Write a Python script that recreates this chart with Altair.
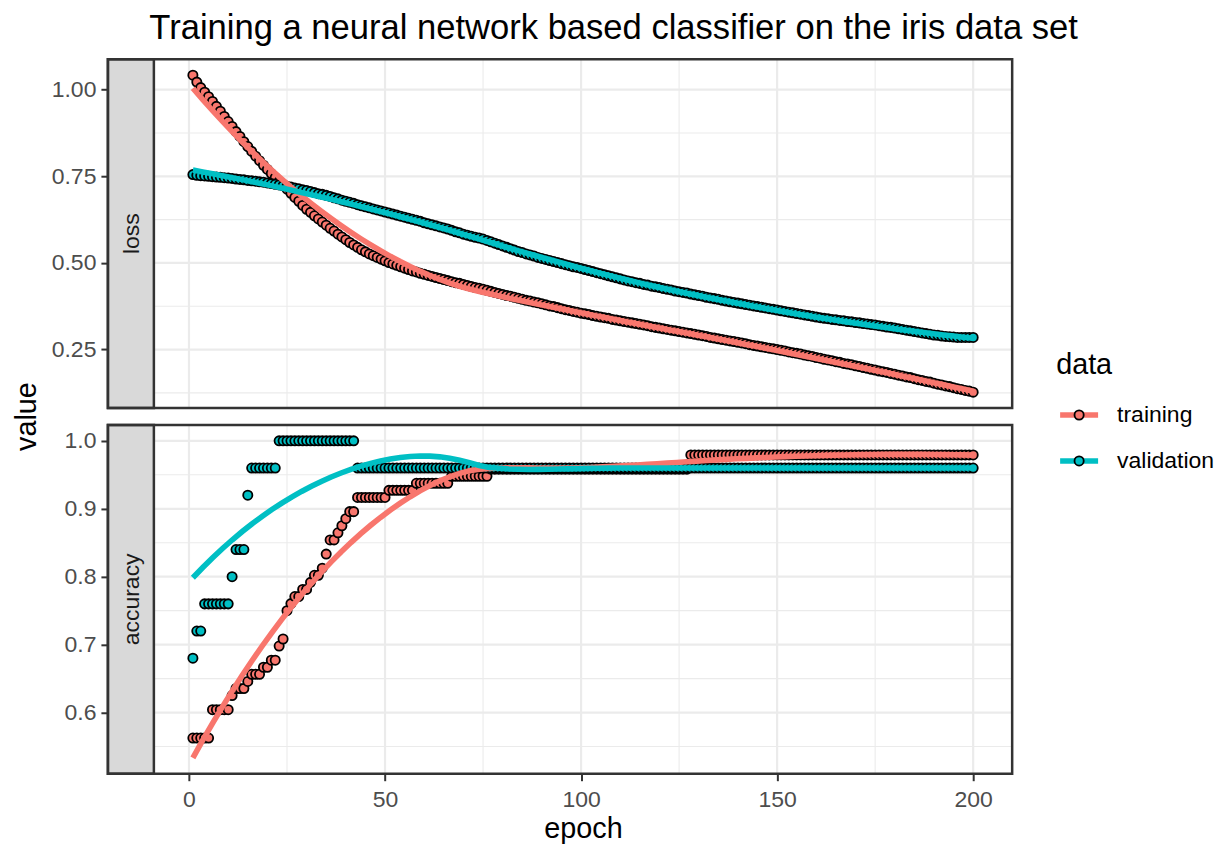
import numpy as np
import pandas as pd
import altair as alt

# ---------------- data ----------------
TITLE = "Training a neural network based classifier on the iris data set"
Y_TITLE = "value"
X_TITLE = "epoch"
LEGEND_TITLE = "data"
SERIES = ["training", "validation"]
COLORS = ["#F8766D", "#00BFC4"]
PANELS = ["loss", "accuracy"]

EPOCH = list(range(1, 201))

TRAIN_LOSS = [
    1.042, 1.022, 1.006, 0.993, 0.980, 0.966, 0.952, 0.938, 0.923, 0.908,
    0.894, 0.879, 0.865, 0.850, 0.836, 0.822, 0.808, 0.795, 0.782, 0.770,
    0.758, 0.746, 0.735, 0.724, 0.713, 0.701, 0.689, 0.678, 0.666, 0.655,
    0.646, 0.636, 0.627, 0.618, 0.609, 0.600, 0.592, 0.583, 0.575, 0.567,
    0.559, 0.552, 0.545, 0.538, 0.532, 0.526, 0.521, 0.516, 0.511, 0.506,
    0.501, 0.497, 0.493, 0.489, 0.485, 0.481, 0.477, 0.474, 0.470, 0.467,
    0.464, 0.461, 0.458, 0.455, 0.452, 0.449, 0.446, 0.443, 0.441, 0.438,
    0.435, 0.432, 0.429, 0.427, 0.424, 0.421, 0.418, 0.415, 0.412, 0.409,
    0.406, 0.404, 0.401, 0.398, 0.395, 0.392, 0.390, 0.387, 0.385, 0.382,
    0.379, 0.376, 0.374, 0.371, 0.368, 0.365, 0.363, 0.360, 0.358, 0.355,
    0.353, 0.351, 0.348, 0.346, 0.344, 0.342, 0.340, 0.337, 0.335, 0.333,
    0.331, 0.329, 0.327, 0.325, 0.323, 0.321, 0.319, 0.316, 0.314, 0.312,
    0.310, 0.308, 0.306, 0.304, 0.302, 0.300, 0.298, 0.296, 0.294, 0.292,
    0.290, 0.288, 0.285, 0.283, 0.281, 0.279, 0.277, 0.275, 0.273, 0.271,
    0.269, 0.267, 0.264, 0.262, 0.260, 0.258, 0.256, 0.254, 0.252, 0.250,
    0.248, 0.246, 0.243, 0.241, 0.239, 0.237, 0.234, 0.232, 0.230, 0.227,
    0.225, 0.222, 0.220, 0.218, 0.215, 0.213, 0.210, 0.208, 0.206, 0.203,
    0.201, 0.198, 0.196, 0.193, 0.191, 0.188, 0.186, 0.184, 0.181, 0.179,
    0.176, 0.174, 0.171, 0.169, 0.166, 0.163, 0.161, 0.158, 0.156, 0.153,
    0.150, 0.148, 0.145, 0.143, 0.140, 0.137, 0.135, 0.132, 0.130, 0.127,
]

VAL_LOSS = [
    0.755, 0.753, 0.752, 0.751, 0.750, 0.749, 0.748, 0.747, 0.746, 0.745,
    0.744, 0.742, 0.741, 0.740, 0.738, 0.737, 0.736, 0.734, 0.733, 0.731,
    0.729, 0.727, 0.725, 0.723, 0.721, 0.719, 0.716, 0.714, 0.711, 0.709,
    0.706, 0.703, 0.700, 0.698, 0.695, 0.692, 0.688, 0.685, 0.681, 0.678,
    0.675, 0.672, 0.668, 0.665, 0.662, 0.659, 0.656, 0.653, 0.650, 0.647,
    0.644, 0.641, 0.638, 0.635, 0.632, 0.629, 0.626, 0.623, 0.620, 0.616,
    0.613, 0.610, 0.607, 0.604, 0.601, 0.598, 0.594, 0.590, 0.587, 0.583,
    0.580, 0.577, 0.574, 0.572, 0.569, 0.565, 0.561, 0.557, 0.553, 0.549,
    0.545, 0.541, 0.537, 0.533, 0.530, 0.526, 0.523, 0.520, 0.516, 0.513,
    0.510, 0.507, 0.504, 0.501, 0.498, 0.495, 0.492, 0.489, 0.487, 0.484,
    0.481, 0.478, 0.475, 0.472, 0.469, 0.466, 0.463, 0.460, 0.457, 0.454,
    0.451, 0.448, 0.446, 0.443, 0.441, 0.438, 0.436, 0.433, 0.431, 0.429,
    0.426, 0.424, 0.422, 0.419, 0.417, 0.415, 0.413, 0.410, 0.408, 0.406,
    0.404, 0.401, 0.399, 0.397, 0.395, 0.392, 0.390, 0.388, 0.386, 0.384,
    0.382, 0.380, 0.378, 0.376, 0.374, 0.372, 0.370, 0.368, 0.366, 0.364,
    0.362, 0.360, 0.358, 0.356, 0.354, 0.352, 0.350, 0.348, 0.346, 0.344,
    0.342, 0.340, 0.339, 0.337, 0.336, 0.334, 0.333, 0.331, 0.330, 0.328,
    0.327, 0.325, 0.324, 0.322, 0.321, 0.319, 0.317, 0.315, 0.314, 0.312,
    0.310, 0.308, 0.306, 0.304, 0.302, 0.300, 0.298, 0.296, 0.294, 0.292,
    0.291, 0.289, 0.288, 0.287, 0.286, 0.285, 0.285, 0.285, 0.285, 0.285,
]

TRAIN_ACC = (
    [0.5625] * 5 + [0.6042] * 5 + [0.6250] + [0.6354] * 3 + [0.6458]
    + [0.6563] * 3 + [0.6667] * 2 + [0.6771] * 2 + [0.6979] + [0.7083]
    + [0.7500] + [0.7604] + [0.7708] * 2 + [0.7813] * 2 + [0.7917]
    + [0.8021] * 2 + [0.8125] + [0.8333] + [0.8542] * 2 + [0.8646]
    + [0.8750] + [0.8854] + [0.8958] * 2 + [0.9167] * 8 + [0.9271] * 7
    + [0.9375] * 9 + [0.9479] * 10 + [0.9583] * 51 + [0.9792] * 73
)

VAL_ACC = (
    [0.68] + [0.72] * 2 + [0.76] * 7 + [0.80] + [0.84] * 3 + [0.92]
    + [0.96] * 7 + [1.00] * 20 + [0.96] * 158
)

X_TICKS = [0, 50, 100, 150, 200]
X_MINOR = [25, 75, 125, 175]
LOSS_TICKS = [0.25, 0.50, 0.75, 1.00]
LOSS_MINOR = [0.125, 0.375, 0.625, 0.875]
ACC_TICKS = [0.6, 0.7, 0.8, 0.9, 1.0]
ACC_MINOR = [0.55, 0.65, 0.75, 0.85, 0.95]

for arr in (TRAIN_LOSS, VAL_LOSS, TRAIN_ACC, VAL_ACC):
    assert len(arr) == len(EPOCH)

# ---------------- smoothing (geom_smooth: loess, span .75, degree 2) ----------------
def loess(x, y, span=0.75, n_out=80):
    x = np.asarray(x, float)
    y = np.asarray(y, float)
    q = int(np.floor(len(x) * span))
    grid = np.linspace(x.min(), x.max(), n_out)
    fit = []
    for x0 in grid:
        d = np.abs(x - x0)
        h = np.sort(d)[q - 1]
        u = np.clip(d / h, 0, 1)
        w = (1 - u ** 3) ** 3
        sw = np.sqrt(w)
        A = np.column_stack([np.ones_like(x), x - x0, (x - x0) ** 2]) * sw[:, None]
        beta, *_ = np.linalg.lstsq(A, y * sw, rcond=None)
        fit.append(float(beta[0]))
    return grid, np.array(fit)


def long_points(train, val):
    return pd.DataFrame({
        "epoch": EPOCH + EPOCH,
        "value": list(train) + list(val),
        "data": [SERIES[0]] * len(EPOCH) + [SERIES[1]] * len(EPOCH),
    })


def long_smooth(train, val):
    gx, gt = loess(EPOCH, train)
    _, gv = loess(EPOCH, val)
    return pd.DataFrame({
        "epoch": list(gx) + list(gx),
        "value": list(gt) + list(gv),
        "data": [SERIES[0]] * len(gx) + [SERIES[1]] * len(gx),
    })


def expanded(*cols):
    allv = np.concatenate([np.asarray(c, float) for c in cols])
    lo, hi = allv.min(), allv.max()
    pad = 0.05 * (hi - lo)
    return [float(lo - pad), float(hi + pad)]


loss_pts = long_points(TRAIN_LOSS, VAL_LOSS)
loss_sm = long_smooth(TRAIN_LOSS, VAL_LOSS)
acc_pts = long_points(TRAIN_ACC, VAL_ACC)
acc_sm = long_smooth(TRAIN_ACC, VAL_ACC)

LOSS_DOM = expanded(loss_pts["value"], loss_sm["value"])
ACC_DOM = expanded(acc_pts["value"], acc_sm["value"])
XDOM = [1 - 0.05 * 199, 200 + 0.05 * 199]

# ---------------- styling ----------------
FONT = "Liberation Sans"
W, STRIP, H = 905, 46, 349
LEFT_W, LEG_W = 80, 170
SPACING_V, SPACING_H = 17, 14
TOTAL_H = 2 * H + SPACING_V
GRID = "#EBEBEB"
DARK = "#333333"
CSCALE = alt.Scale(domain=SERIES, range=COLORS)
PT = dict(shape="circle", filled=True, size=85, stroke="black", strokeWidth=1.8, opacity=1)


def panel(label, pts, sm, ydom, yticks, yminor, yfmt, show_x):
    xsc = alt.Scale(domain=XDOM, range=[STRIP, W], nice=False, zero=False)
    ysc = alt.Scale(domain=ydom, nice=False, zero=False)
    if show_x:
        xaxis = alt.Axis(values=X_TICKS, grid=False, domain=False, tickColor=DARK,
                         tickSize=7, tickWidth=2, labelFontSize=23, labelColor="#4D4D4D",
                         labelPadding=8, labelFlush=False, labelOverlap=False,
                         title=X_TITLE, titleFontSize=28.8, titleColor="black",
                         titleFontWeight="normal", titlePadding=3)
    else:
        xaxis = None
    yaxis = alt.Axis(values=yticks, format=yfmt, grid=False, domain=False, tickColor=DARK,
                     tickSize=7, tickWidth=2, labelFontSize=23, labelColor="#4D4D4D",
                     labelPadding=5, labelFlush=False, labelOverlap=False, title=None)
    X = alt.X("epoch:Q", scale=xsc, axis=xaxis)
    Y = alt.Y("value:Q", scale=ysc, axis=yaxis)

    xmin = alt.Chart(pd.DataFrame({"epoch": X_MINOR})).mark_rule(color=GRID, strokeWidth=1.1).encode(
        x=X, y=alt.value(0), y2=alt.value(H))
    xmaj = alt.Chart(pd.DataFrame({"epoch": X_TICKS})).mark_rule(color=GRID, strokeWidth=2.2).encode(
        x=X, y=alt.value(0), y2=alt.value(H))
    ymin = alt.Chart(pd.DataFrame({"value": yminor})).mark_rule(color=GRID, strokeWidth=1.1).encode(
        y=Y, x=alt.value(STRIP), x2=alt.value(W))
    ymaj = alt.Chart(pd.DataFrame({"value": yticks})).mark_rule(color=GRID, strokeWidth=2.2).encode(
        y=Y, x=alt.value(STRIP), x2=alt.value(W))

    lab = pd.DataFrame({"label": [label]})
    strip = alt.Chart(lab).mark_rect(fill="#D9D9D9", stroke=DARK, strokeWidth=2.5).encode(
        x=alt.value(0), x2=alt.value(STRIP), y=alt.value(0), y2=alt.value(H))
    strip_txt = alt.Chart(lab).mark_text(angle=270, fontSize=23, color="#1A1A1A", align="center",
                                         baseline="alphabetic").encode(
        text="label:N", x=alt.value(31.3), y=alt.value(H / 2))

    points = alt.Chart(pts).mark_point(**PT).encode(
        x=X, y=Y, fill=alt.Fill("data:N", scale=CSCALE, legend=None))
    lines = alt.Chart(sm).mark_line(strokeWidth=5.6).encode(
        x=X, y=Y, color=alt.Color("data:N", scale=CSCALE, legend=None))

    border = alt.Chart(lab).mark_rect(fill="white", fillOpacity=0, stroke=DARK, strokeWidth=2.5).encode(
        x=alt.value(0), x2=alt.value(W), y=alt.value(0), y2=alt.value(H))

    return alt.layer(xmin, xmaj, ymin, ymaj, strip, strip_txt, points, lines, border).properties(
        width=W, height=H)


loss_panel = panel(PANELS[0], loss_pts, loss_sm, LOSS_DOM, LOSS_TICKS, LOSS_MINOR, ".2f", False)
acc_panel = panel(PANELS[1], acc_pts, acc_sm, ACC_DOM, ACC_TICKS, ACC_MINOR, ".1f", True)

# y title cell (top-left); its text sits at the middle of both panels
left_top = alt.Chart(pd.DataFrame({"t": [Y_TITLE]})).mark_text(
    angle=270, fontSize=28.8, color="black", align="center", baseline="alphabetic").encode(
    text="t:N", x=alt.value(22), y=alt.value(TOTAL_H / 2)).properties(width=LEFT_W, height=H)

left_bottom = alt.Chart(pd.DataFrame({"t": [""]})).mark_text().encode(
    text="t:N", x=alt.value(0), y=alt.value(0)).properties(width=LEFT_W, height=H)

# legend cell (top-right)
leg_df = pd.DataFrame({"data": SERIES})
LY = alt.Y("data:N", scale=alt.Scale(type="point", domain=SERIES, range=[356, 402], padding=0), axis=None)
leg_title = alt.Chart(pd.DataFrame({"t": [LEGEND_TITLE]})).mark_text(
    align="left", baseline="alphabetic", fontSize=28.8, color="black").encode(
    text="t:N", x=alt.value(30), y=alt.value(315.3))
leg_line = alt.Chart(leg_df).mark_rule(strokeWidth=5.6).encode(
    y=LY, x=alt.value(34), x2=alt.value(72), color=alt.Color("data:N", scale=CSCALE, legend=None))
leg_pt = alt.Chart(leg_df).mark_point(**PT).encode(
    y=LY, x=alt.value(53), fill=alt.Fill("data:N", scale=CSCALE, legend=None))
leg_txt = alt.Chart(leg_df).mark_text(align="left", baseline="middle", fontSize=23, color="black").encode(
    y=LY, x=alt.value(91), text="data:N")
legend = alt.layer(leg_title, leg_line, leg_pt, leg_txt).properties(width=LEG_W, height=H)

chart = alt.concat(
    left_top, loss_panel, legend,
    left_bottom, acc_panel,
    columns=3,
    spacing={"row": SPACING_V, "column": SPACING_H},
    bounds="flush",
).properties(
    title=alt.TitleParams(TITLE, fontSize=34.6, fontWeight="normal", color="black",
                          anchor="middle", offset=11, font=FONT),
    padding={"left": 5, "top": 3, "right": 0, "bottom": 0},
).configure(font=FONT).configure_view(stroke=None)

chart.save("out.html", embed_options={"renderer": "svg", "actions": False})
